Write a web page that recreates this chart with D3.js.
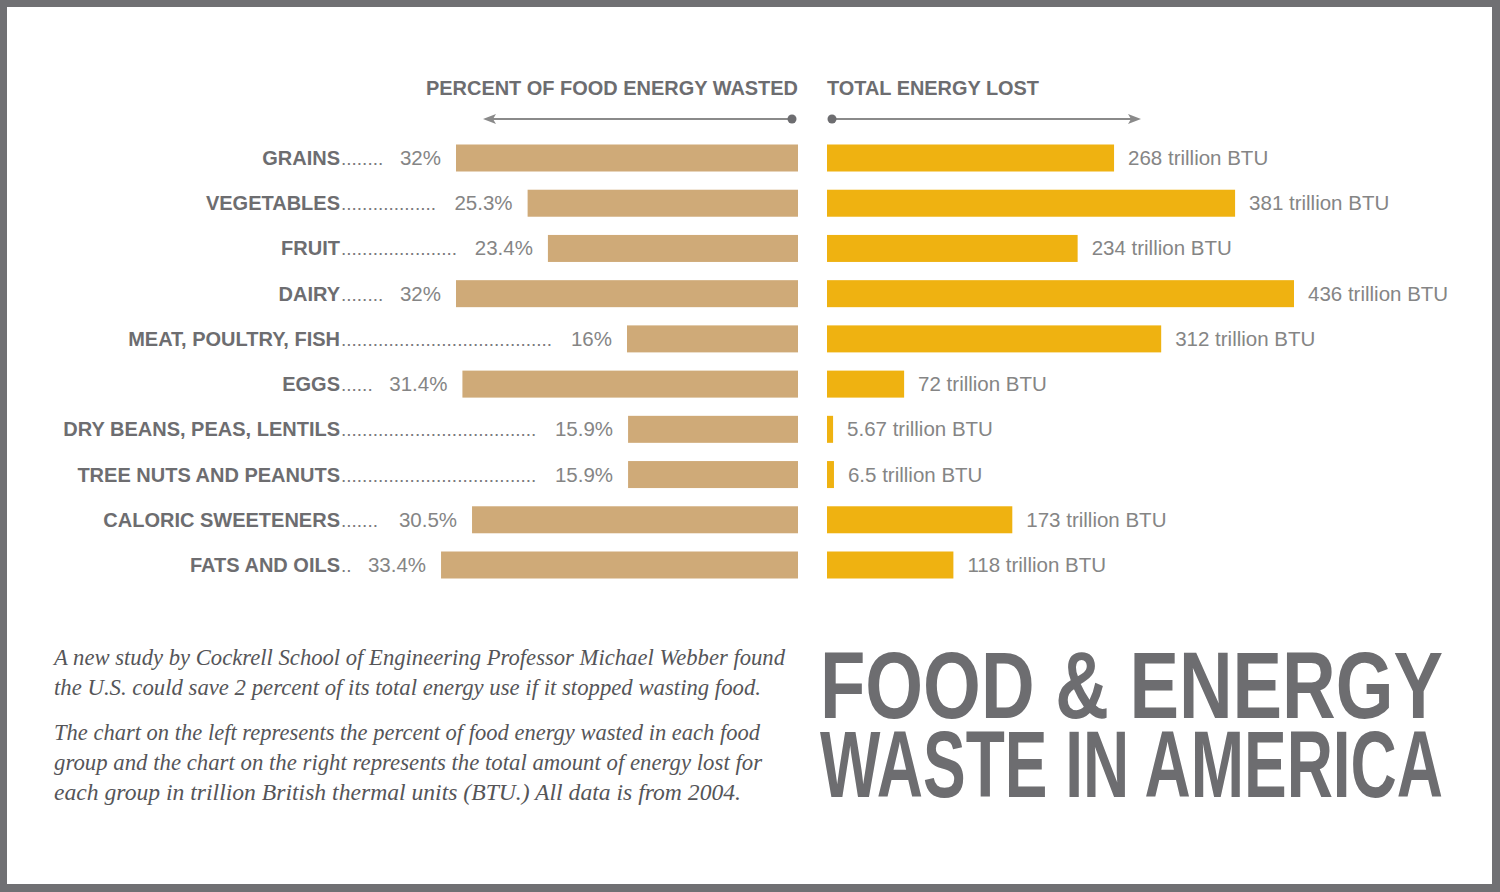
<!DOCTYPE html>
<html><head><meta charset="utf-8">
<script src="https://cdn.jsdelivr.net/npm/d3@7"></script>
<style>html,body{margin:0;padding:0;background:#fff;overflow:hidden}</style>
</head><body>
<svg id="c" width="1500" height="892"></svg>
<script>
const categories = ["GRAINS","VEGETABLES","FRUIT","DAIRY","MEAT, POULTRY, FISH","EGGS","DRY BEANS, PEAS, LENTILS","TREE NUTS AND PEANUTS","CALORIC SWEETENERS","FATS AND OILS"];
const percentWasted = [32, 25.3, 23.4, 32, 16, 31.4, 15.9, 15.9, 30.5, 33.4];
const percentLabels = ["32%","25.3%","23.4%","32%","16%","31.4%","15.9%","15.9%","30.5%","33.4%"];
const energyLost = [268, 381, 234, 436, 312, 72, 5.67, 6.5, 173, 118];
const energyLabels = ["268 trillion BTU","381 trillion BTU","234 trillion BTU","436 trillion BTU","312 trillion BTU","72 trillion BTU","5.67 trillion BTU","6.5 trillion BTU","173 trillion BTU","118 trillion BTU"];
const headers = ["PERCENT OF FOOD ENERGY WASTED","TOTAL ENERGY LOST"];
const titleLines = ["FOOD & ENERGY","WASTE IN AMERICA"];
const paragraph = [
  "A new study by Cockrell School of Engineering Professor Michael Webber found",
  "the U.S. could save 2 percent of its total energy use if it stopped wasting food.",
  "The chart on the left represents the percent of food energy wasted in each food",
  "group and the chart on the right represents the total amount of energy lost for",
  "each group in trillion British thermal units (BTU.) All data is from 2004."
];

const svg = d3.select("#c");
const W = 1500, H = 892;
svg.append("rect").attr("width", W).attr("height", H).attr("fill", "#707073");
svg.append("rect").attr("x", 7).attr("y", 7).attr("width", 1485).attr("height", 877).attr("fill", "#ffffff");

const sans = "'Liberation Sans', Arial, Helvetica, sans-serif";
const narrow = "'Liberation Sans Narrow', 'Liberation Sans', Arial, sans-serif";
const grey = "#6d6d70";
const lightGrey = "#858585";

const leftEdge = 798, rightEdge = 827;
const xL = d3.scaleLinear().domain([0, 32]).range([0, 342]);
const xR = d3.scaleLinear().domain([0, 436]).range([0, 467]);
const y = d3.scalePoint().domain(categories).range([158, 565]);
const barH = 27;

// headers
svg.append("text").attr("x", 426).attr("y", 95).text(headers[0])
  .attr("font-family", narrow).attr("font-weight", "bold").attr("font-size", 21)
  .attr("fill", grey).attr("textLength", 372).attr("lengthAdjust", "spacingAndGlyphs");
svg.append("text").attr("x", 827).attr("y", 95).text(headers[1])
  .attr("font-family", narrow).attr("font-weight", "bold").attr("font-size", 21)
  .attr("fill", grey).attr("textLength", 212).attr("lengthAdjust", "spacingAndGlyphs");

// arrows
const arrowC = "#8a8a8a";
const ay = 119;
svg.append("line").attr("x1", 490).attr("x2", 792).attr("y1", ay).attr("y2", ay).attr("stroke", arrowC).attr("stroke-width", 2);
svg.append("path").attr("d", `M483,${ay} L496,${ay-5} L493,${ay} L496,${ay+5} Z`).attr("fill", arrowC);
svg.append("circle").attr("cx", 792).attr("cy", ay).attr("r", 4.5).attr("fill", "#6d6d70");
svg.append("line").attr("x1", 832).attr("x2", 1134).attr("y1", ay).attr("y2", ay).attr("stroke", arrowC).attr("stroke-width", 2);
svg.append("path").attr("d", `M1141,${ay} L1128,${ay-5} L1131,${ay} L1128,${ay+5} Z`).attr("fill", arrowC);
svg.append("circle").attr("cx", 832).attr("cy", ay).attr("r", 4.5).attr("fill", "#6d6d70");

// left bars
svg.append("g").selectAll("rect").data(categories).join("rect")
  .attr("x", (d, i) => leftEdge - xL(percentWasted[i]))
  .attr("y", d => y(d) - barH / 2)
  .attr("width", (d, i) => xL(percentWasted[i]))
  .attr("height", barH)
  .attr("fill", "#cfaa78");

// right bars
svg.append("g").selectAll("rect").data(categories).join("rect")
  .attr("x", rightEdge)
  .attr("y", d => y(d) - barH / 2)
  .attr("width", (d, i) => xR(energyLost[i]))
  .attr("height", barH)
  .attr("fill", "#efb211");

// right value labels
svg.append("g").selectAll("text").data(categories).join("text")
  .attr("x", (d, i) => rightEdge + xR(energyLost[i]) + 14)
  .attr("y", d => y(d) + 7)
  .text((d, i) => energyLabels[i])
  .attr("font-family", sans).attr("font-size", 20.5).attr("fill", lightGrey);

// category names
const nameX = 340;
svg.append("g").selectAll("text").data(categories).join("text")
  .attr("x", nameX).attr("y", d => y(d) + 7).attr("text-anchor", "end")
  .text(d => d)
  .attr("font-family", sans).attr("font-weight", "bold").attr("font-size", 20)
  .attr("fill", grey);

// left value labels
const valG = svg.append("g");
const vals = valG.selectAll("text").data(categories).join("text")
  .attr("x", (d, i) => leftEdge - xL(percentWasted[i]) - 15)
  .attr("y", d => y(d) + 7).attr("text-anchor", "end")
  .text((d, i) => percentLabels[i])
  .attr("font-family", sans).attr("font-size", 20.5).attr("fill", lightGrey);

// leader dots
const dotG = svg.append("g");
vals.each(function(d, i) {
  const w = this.getComputedTextLength();
  const valStart = leftEdge - xL(percentWasted[i]) - 15 - w;
  const dotEnd = valStart - 16;
  const t = dotG.append("text").attr("x", nameX + 1).attr("y", y(d) + 7)
    .attr("font-family", sans).attr("font-size", 19).attr("fill", "#7a7a7d");
  t.text(".");
  const dw = t.node().getComputedTextLength();
  const n = Math.max(0, Math.floor((dotEnd - nameX - 1) / dw));
  t.text(".".repeat(n));
});

// paragraph
const pY = [665, 695, 740, 770, 800];
const pW = [731, 707, 706, 708, 687];
svg.append("g").selectAll("text").data(paragraph).join("text")
  .attr("x", 54).attr("y", (d, i) => pY[i])
  .text(d => d)
  .attr("font-family", "'Liberation Serif', 'DejaVu Serif', serif").attr("font-style", "italic")
  .attr("font-size", 23).attr("fill", "#555558")
  .attr("textLength", (d, i) => pW[i]).attr("lengthAdjust", "spacingAndGlyphs");

// title
const tY = [718, 797];
svg.append("g").selectAll("text").data(titleLines).join("text")
  .attr("x", 820).attr("y", (d, i) => tY[i])
  .text(d => d)
  .attr("font-family", narrow).attr("font-weight", "bold").attr("font-size", 94)
  .attr("fill", "#6d6d70")
  .attr("textLength", 623).attr("lengthAdjust", "spacingAndGlyphs");
</script>
</body></html>
